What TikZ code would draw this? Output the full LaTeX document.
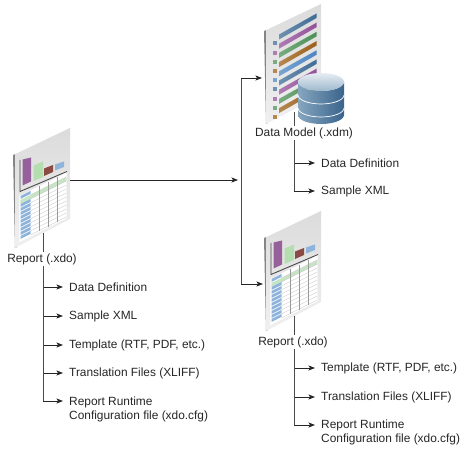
\documentclass[tikz,border=0pt]{standalone}
\usepackage{fontspec}
\setmainfont{Liberation Sans}
\usepackage{xcolor}
\usetikzlibrary{arrows.meta,positioning,calc}
\definecolor{barpurple}{HTML}{96609A}
\definecolor{bargreen}{HTML}{B4DDB0}
\definecolor{barbrown}{HTML}{8C4A44}
\definecolor{barblue}{HTML}{8FB4DC}
\definecolor{linegray}{HTML}{4A4A4A}
\definecolor{stripesteel}{HTML}{3F6C96}
\definecolor{stripepurple}{HTML}{94509A}
\definecolor{stripegreen}{HTML}{4C9056}
\definecolor{stripebrown}{HTML}{9C6018}
\definecolor{stripeblue}{HTML}{4C86C2}
\definecolor{dbdark}{HTML}{3A648C}
\definecolor{dbside}{HTML}{86A6C0}
\definecolor{dblight}{HTML}{E6EDF3}
\tikzset{
  lab/.style={inner sep=0pt,font=\fontsize{11.9}{14}\selectfont,align=left,anchor=west,text=black!85},
  title/.style={inner sep=1.5pt,font=\fontsize{11.9}{14}\selectfont,text=black!85},
  conn/.style={draw=linegray,line width=0.8pt},
  arr/.style={conn,-{Stealth[length=6.5pt,width=5pt,inset=1.5pt]},color=black!85},
  branch/.style={arr,shorten >=6pt},
  pics/iconpage/.style={code={
    \fill[black!48] (0,0)--(2.5,-1)--(3.5,93)--(2,93)--cycle;
    \shade[top color=black!14,bottom color=black!6] (2,-0.8)--(57,-27)--(57,64)--(2,93)--cycle;
  }},
  pics/reporticon/.style={code={
    \pic {iconpage};
    % chart part
    \foreach \xa/\xb/\ya/\yb/\yc/\yd/\col in {9.5/18/4.5/2.5/30.5/26.5/barpurple,20.5/30/10.5/6.5/26/22/bargreen,31/40/13.5/10/21/17/barbrown,42/51/9.5/6.5/15.5/12/barblue}
    {\fill[\col] (\xa,\ya)--(\xb,\yb)--(\xb,\yd)--(\xa,\yc)--cycle;}
    \draw[linegray,line width=0.9pt] (7,5)--(7,36.5)--(54,16.5);
    % table part
    \begin{scope}[cm={1,0.5,0,1,(6.3,41)}]
      \fill[white] (0,0) rectangle (47.4,46);
      \fill[bargreen!75] (1,4.5) rectangle (47,8.5);
      \foreach \r in {0.5,8.5,12.5,...,40.5} {\fill[barblue] (1.4,\r) rectangle (11.4,\r+3);}
      \foreach \r in {4.5,8.5,...,44.5} {\draw[black!22,line width=0.35pt] (11.4,\r)--(47,\r);}
      \foreach \c in {20,29,38} {\draw[black!40,line width=0.35pt] (\c,0.5)--(\c,45.5);}
    \end{scope}
  }},
  pics/modelicon/.style={code={
    \pic {iconpage};
    \foreach \col [count=\i from 0] in {stripesteel,stripepurple,stripegreen,stripebrown,stripeblue,stripesteel,stripepurple,stripegreen,stripebrown}
    {\fill[\col!75] (9.2,{10.5+9.2*\i}) rectangle (12.8,{14.5+9.2*\i});
     \shade[left color=\col!75,right color=\col] (15,{3.5+9.2*\i})--(52.5,{-17.5+9.2*\i})--(52.5,{-13+9.2*\i})--(15,{8.5+9.2*\i})--cycle;}
  }},
  pics/dbstack/.style={code={
    \shade[left color=dbside,middle color=dblight,right color=dbdark]
      (-23,0) arc[start angle=180,end angle=360,x radius=23,y radius=-9] -- (23,33) arc[start angle=360,end angle=180,x radius=23,y radius=-9] -- cycle;
    \shade[top color=dblight,bottom color=dbside!80] (0,0) ellipse[x radius=23,y radius=9];
    \foreach \d in {13,26} {\draw[white,line width=0.7pt] (-23,\d) arc[start angle=180,end angle=360,x radius=23,y radius=-9];}
  }},
}
\begin{document}
\begin{tikzpicture}[x=1pt,y=-1pt]
\useasboundingbox (0,0) rectangle (461,449);
\pic at (13,155) {reporticon};
\pic at (264,238) {reporticon};
\pic at (264,31) {modelicon};
\coordinate (lfoot) at (43,233);
\coordinate (mfoot) at (294,112);
\coordinate (rfoot) at (294,316);
\coordinate (lout) at (70,180);
\coordinate (split) at (241,180);
\coordinate (mtop) at (262,78);
\coordinate (rtop) at (263,284);
% titles
\node[title] (lreport) at (42,259) {Report (.xdo)};
\node[title] (mtitle) at (304,133) {Data Model (.xdm)};
\node[title] (rreport) at (293,342) {Report (.xdo)};
\draw[conn] (lfoot)--(lfoot |- lreport.north);
\draw[conn] (mfoot)--(mfoot |- mtitle.north);
\draw[conn] (rfoot)--(rfoot |- rreport.north);
\pic at (321,82) {dbstack};
% left list
\foreach \nm/\yy/\txt in {lone/287/{Data Definition},ltwo/316/{Sample XML},lthree/345/{Template (RTF, PDF, etc.)},lfour/373/{Translation Files (XLIFF)}}
{\node[lab] (\nm) at (69,\yy) {\txt}; \draw[branch] (lfoot |- \nm.west)--(\nm.west);}
\node[lab] (lfive) at (69,409) {Report Runtime\\Configuration file (xdo.cfg)};
\draw[conn] (lfoot |- lreport.south)--(lfoot |- 0,401);
\draw[arr] (lfoot |- 0,401)--(63,401);
% data model list
\foreach \nm/\yy/\txt in {mone/163/{Data Definition},mtwo/191/{Sample XML}}
{\node[lab] (\nm) at (321,\yy) {\txt}; \draw[branch] (mfoot |- \nm.west)--(\nm.west);}
\draw[conn] (mfoot |- mtitle.south)--(mfoot |- mtwo.west);
% lower report list
\foreach \nm/\yy/\txt in {rone/368/{Template (RTF, PDF, etc.)},rtwo/397/{Translation Files (XLIFF)}}
{\node[lab] (\nm) at (321,\yy) {\txt}; \draw[branch] (rfoot |- \nm.west)--(\nm.west);}
\node[lab] (rthree) at (321,432) {Report Runtime\\Configuration file (xdo.cfg)};
\draw[conn] (rfoot |- rreport.south)--(rfoot |- 0,425);
\draw[arr] (rfoot |- 0,425)--(315,425);
% between the files
\draw[arr] (lout)--(238,180);
\draw[conn] (mtop -| split)--(rtop -| split);
\draw[arr] (mtop -| split)--(mtop);
\draw[arr] (rtop -| split)--(rtop);
\end{tikzpicture}
\end{document}
